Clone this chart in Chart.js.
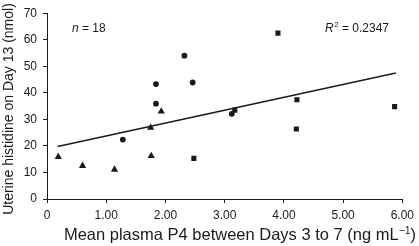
<!DOCTYPE html>
<html>
<head>
<meta charset="utf-8">
<script src="https://cdn.jsdelivr.net/npm/chart.js@4"></script>
<style>
html,body{margin:0;padding:0;background:#fff;}
#wrap{width:419px;height:246px;position:relative;}
</style>
</head>
<body>
<div id="wrap"><canvas id="c" width="419" height="246"></canvas></div>
<script>
// values
const triX=[0.19,0.60,1.14,1.76,1.75,1.93];
const triY=[15.9,12.5,11.1,16.2,26.9,33.0];
const cirX=[1.28,1.84,1.84,2.32,2.46,3.12];
const cirY=[22.4,35.9,43.3,54.0,43.9,32.1];
const sqX=[2.48,3.17,3.90,4.21,4.22,5.87];
const sqY=[15.3,33.5,62.5,26.4,37.4,34.8];
const fitX=[0.18,5.89];
const fitY=[19.8,47.5];
const xTicks=[0,1,2,3,4,5,6];
const yTicks=[0,10,20,30,40,50,60,70];

const FONT='"Liberation Sans", Arial, Helvetica, sans-serif';
const INK='#1a1a1a';
const pts=(xs,ys)=>xs.map((x,i)=>({x:x,y:ys[i]}));

const textPlug={
    id:'txt',
    afterDraw:function(ch){
        let c=ch.ctx;
        c.save();
        c.fillStyle=INK; c.textBaseline='alphabetic';
        // n = 18
        c.font='italic 12px '+FONT; c.textAlign='left';
        let x=72, y=32;
        c.fillText('n',x,y); x+=c.measureText('n').width;
        c.font='12px '+FONT; c.fillText(' = 18',x,y);
        // R2
        x=325;
        c.font='italic 12px '+FONT; c.fillText('R',x,y); x+=c.measureText('R').width;
        c.font='8px '+FONT; c.fillText('2',x+0.5,y-5); x+=c.measureText('2').width+0.5;
        c.font='12px '+FONT; c.fillText(' = 0.2347',x,y);
        // x title
        let s1='Mean plasma P4 between Days 3 to 7 (ng mL', s2='\u22121', s3=')';
        c.font='10.5px '+FONT; let w2=c.measureText(s2).width;
        c.font='16.5px '+FONT;
        let w=c.measureText(s1).width+w2+c.measureText(s3).width;
        x=240-w/2; y=239.5;
        c.fillText(s1,x,y); x+=c.measureText(s1).width;
        c.font='10.5px '+FONT; c.fillText(s2,x,y-6); x+=w2;
        c.font='16.5px '+FONT; c.fillText(s3,x,y);
        // y title
        c.translate(13,109); c.rotate(-Math.PI/2);
        c.textAlign='center'; c.font='14px '+FONT;
        c.fillText('Uterine histidine on Day 13 (nmol)',0,0);
        c.restore();
    }
};

const sc={type:'scatter',showLine:false,pointBackgroundColor:INK,pointBorderColor:INK,pointBorderWidth:0};
new Chart(document.getElementById('c'),{
    type:'scatter',
    data:{datasets:[
        Object.assign({label:'fit',type:'line',data:pts(fitX,fitY),borderColor:INK,borderWidth:1.6,pointRadius:0,fill:false,order:2}),
        Object.assign({label:'tri',data:pts(triX,triY),pointStyle:'triangle',pointRadius:4.2,order:1},sc),
        Object.assign({label:'cir',data:pts(cirX,cirY),pointStyle:'circle',pointRadius:2.9,order:1},sc),
        Object.assign({label:'sq',data:pts(sqX,sqY),pointStyle:'rect',pointRadius:3.6,order:1},sc)
    ]},
    options:{
        responsive:false,animation:false,
        layout:{padding:{top:7,right:12,left:0,bottom:0}},
        plugins:{legend:{display:false},tooltip:{enabled:false}},
        scales:{
            x:{type:'linear',min:0,max:6,
                afterBuildTicks:s=>{s.ticks=xTicks.map(v=>({value:v}));},
                afterFit:s=>{s.height=47;},
                ticks:{color:INK,font:{family:FONT,size:12},padding:5,maxRotation:0,
                    callback:v=>v===0?'0':v.toFixed(2)},
                grid:{drawOnChartArea:false,drawTicks:true,tickLength:4,color:INK},
                border:{display:true,color:INK,width:1}},
            y:{type:'linear',min:0,max:70,
                afterBuildTicks:s=>{s.ticks=yTicks.map(v=>({value:v}));},
                afterFit:s=>{s.width=47;},
                ticks:{color:INK,font:{family:FONT,size:12},padding:6},
                grid:{drawOnChartArea:false,drawTicks:true,tickLength:4,color:INK},
                border:{display:true,color:INK,width:1}}
        }
    },
    plugins:[textPlug]
});
</script>
</body>
</html>
